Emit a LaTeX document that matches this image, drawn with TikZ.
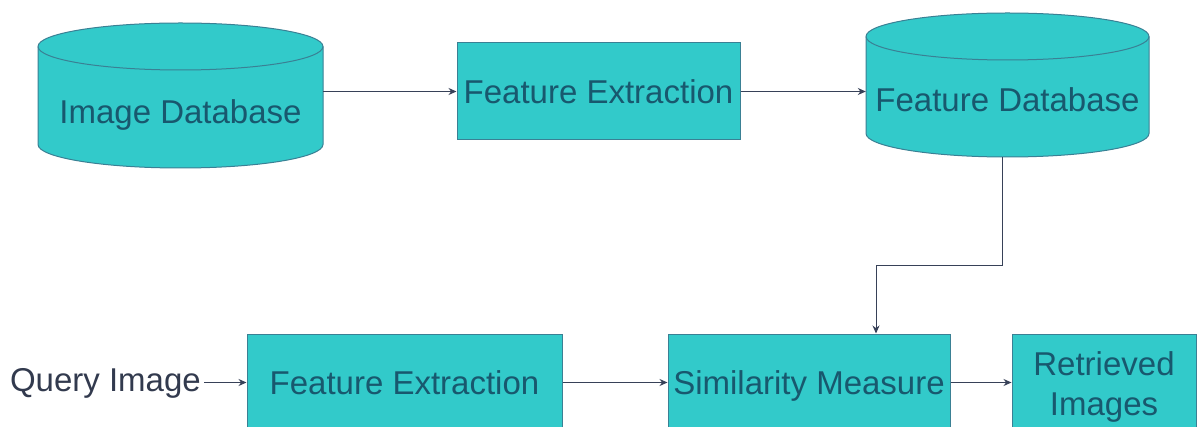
\documentclass[tikz,border=0pt]{standalone}
\usepackage{fontspec}
\setmainfont{Liberation Sans}
\usetikzlibrary{arrows.meta,calc}
\definecolor{boxfill}{RGB}{50,202,202}
\definecolor{boxline}{RGB}{58,128,148}
\definecolor{boxtext}{RGB}{24,88,110}
\definecolor{linecol}{RGB}{55,65,88}
\definecolor{plaintext}{RGB}{50,58,78}
\newcommand\drawcyl[5]{% cx, top, bottom, rx, ry
  \filldraw[cylstyle] (#1-#4,-#2-#5) -- (#1-#4,-#3+#5)
     arc[start angle=180,end angle=360,x radius=#4,y radius=#5]
     -- (#1+#4,-#2-#5)
     arc[start angle=0,end angle=180,x radius=#4,y radius=#5] -- cycle;
  \draw[cylstyle,fill=none] (#1-#4,-#2-#5)
     arc[start angle=180,end angle=360,x radius=#4,y radius=#5];
}
\tikzset{
  cylstyle/.style={draw=boxline, fill=boxfill, line width=1pt},
  procbox/.style={draw=boxline, fill=boxfill, line width=1pt, text=boxtext,
    font=\fontsize{33}{40}\selectfont, inner sep=0pt, align=center,
    text height=23.6pt, text depth=0pt, minimum height=97},
  dbbox/.style={inner sep=0pt, draw=none},
  dbtext/.style={text=boxtext, font=\fontsize{33}{40}\selectfont, inner sep=0pt,
    text height=23.6pt, text depth=0pt},
  plainlabel/.style={text=plaintext, font=\fontsize{33}{40}\selectfont, inner sep=3pt,
    text height=23.6pt, text depth=0pt},
  arr/.style={draw=linecol, line width=1pt, -{Stealth[length=8pt,width=7pt]}},
}
\begin{document}
\begin{tikzpicture}[x=1pt,y=1pt]
\useasboundingbox (0,0) rectangle (1198,-427);
\clip (0,0) rectangle (1198,-427);
% cylinders
\drawcyl{180.5}{23}{168}{142.5}{23.5}
\node[dbbox, minimum width=285, minimum height=145] (imgdb) at (180.5,-95.5) {};
\node[dbtext] (imgdbtext) at (180.5,-111.5) {Image Database};

\drawcyl{1007.5}{13}{157}{141.5}{23.5}
\node[dbbox, minimum width=283, minimum height=144] (featdb) at (1007.5,-85) {};
\node[dbtext] (featdbtext) at (1007.5,-100) {Feature Database};

% boxes
\node[procbox, minimum width=283] (fe1) at (598.5,-91.5) {Feature Extraction};
\node[procbox, minimum width=315] (fe2) at (404.5,-382.5) {Feature Extraction};
\node[procbox, minimum width=282] (sim) at (809,-382.5) {Similarity Measure};
\node[procbox, minimum width=184, text height=65pt] (ret) at (1104,-382.5) {Retrieved\\Images};
\node[plainlabel, anchor=east] (query) at (204,-380) {Query Image};

% connectors
\draw[arr] (imgdb.east |- fe1.west) -- (fe1.west);
\draw[arr] (fe1.east) -- (fe1.east -| featdb.west);
\coordinate (bend) at (876,-266);
\draw[arr] ([xshift=-5.5]featdb.south) |- (bend) -- (bend |- sim.north);
\draw[arr] (query.east |- fe2.west) -- (fe2.west);
\draw[arr] (fe2.east) -- (sim.west);
\draw[arr] (sim.east) -- (ret.west);
\end{tikzpicture}
\end{document}
